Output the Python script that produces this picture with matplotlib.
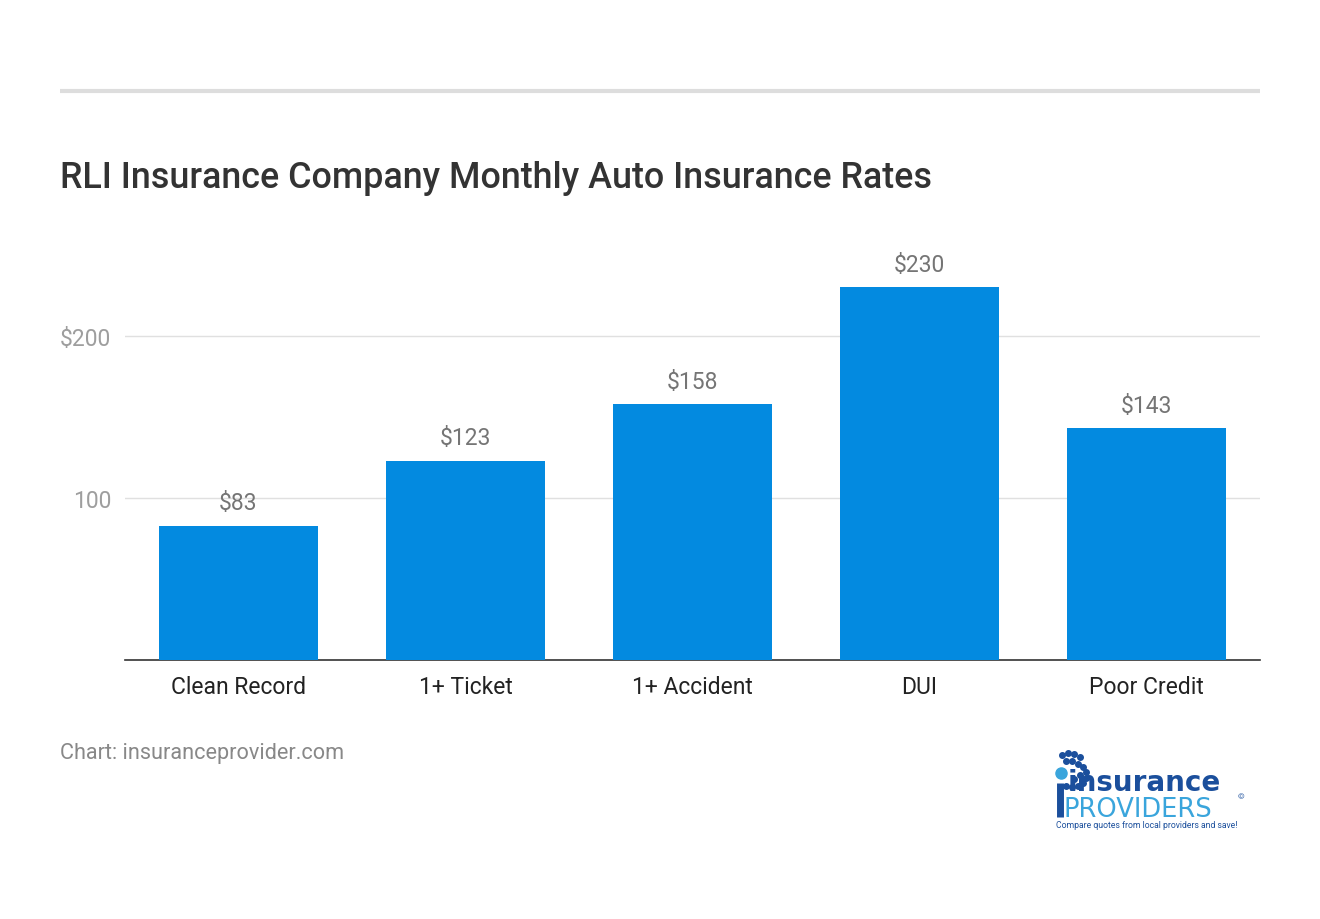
import matplotlib.pyplot as plt
from matplotlib.lines import Line2D
import numpy as np

plt.rcParams['font.family'] = ['Roboto', 'DejaVu Sans']

categories = ['Clean Record', '1+ Ticket', '1+ Accident', 'DUI', 'Poor Credit']
rates = [83, 123, 158, 230, 143]
ytick_vals = [100, 200]
ytick_labels = ['100', '$200']

fig = plt.figure(figsize=(13.2, 9.2), dpi=100)
ax = fig.add_axes([125/1320, 1 - 661/920, 1135/1320, 405/920])

x = np.arange(len(categories))
ax.bar(x, rates, width=0.70, color='#038ae0', zorder=3)
for xi, v in zip(x, rates):
    ax.text(xi, v + 7, f'${v}', ha='center', va='bottom', fontsize=16.5, color='#757575')

ax.set_xlim(-0.5, len(categories) - 0.5)
ax.set_ylim(0, 250)
ax.set_xticks(x)
ax.set_xticklabels(categories, fontsize=16.5, color='#222222')
ax.set_yticks(ytick_vals)
ax.set_yticklabels(ytick_labels, fontsize=16.5, color='#9e9e9e')
ax.tick_params(axis='both', length=0)
ax.tick_params(axis='x', pad=11)
ax.tick_params(axis='y', pad=10)
ax.grid(axis='y', color='#e0e0e0', lw=1, zorder=0)
for s in ['top', 'right', 'left']:
    ax.spines[s].set_visible(False)
ax.spines['bottom'].set_color('#333333')
ax.spines['bottom'].set_linewidth(1.2)

# top rule
fig.add_artist(Line2D([60/1320, 1260/1320], [1 - 92/920, 1 - 92/920],
                      color='#dddddd', lw=3, solid_capstyle='butt'))

fig.text(60/1320, 1 - 179/920, 'RLI Insurance Company Monthly Auto Insurance Rates',
         fontsize=25.8, color='#333333', fontweight='medium', va='center', ha='left')
fig.text(60/1320, 1 - 754/920, 'Chart: insuranceprovider.com',
         fontsize=15.6, color='#888888', va='center', ha='left')

# logo
fig.text(1068/1320, 1 - 791/920, 'insurance', fontsize=20, fontweight='bold',
         color='#1b4f9c', va='baseline', ha='left', family='DejaVu Sans')
fig.text(1064/1320, 1 - 817/920, 'PROVIDERS', fontsize=18.5, color='#3aa5dc',
         va='baseline', ha='left', family='DejaVu Sans')
fig.text(1056/1320, 1 - 828/920, 'Compare quotes from local providers and save!',
         fontsize=6.2, color='#1b4f9c', va='baseline', ha='left')
fig.text(1238/1320, 1 - 797/920, '©', fontsize=6, color='#1b4f9c', va='center')
logo_dots_x = [1062, 1068, 1074, 1080, 1066, 1072, 1078, 1083, 1086, 1086,
               1083, 1078, 1072, 1066, 1074, 1080]
logo_dots_y = [756, 754, 755, 758, 762, 762, 765, 768, 773, 779,
               784, 787, 788, 787, 780, 776]
fig.add_artist(Line2D([v/1320 for v in logo_dots_x], [1 - v/920 for v in logo_dots_y],
                      ls='none', marker='o', ms=4, color='#1b4f9c'))
fig.add_artist(Line2D([1061/1320], [1 - 774/920], ls='none', marker='o', ms=8,
                      color='#3aa5dc'))
fig.add_artist(Line2D([1060/1320, 1060/1320], [1 - 784/920, 1 - 818/920],
                      color='#1b4f9c', lw=5, solid_capstyle='butt'))

fig.savefig('out.png', dpi=100, facecolor='white')
